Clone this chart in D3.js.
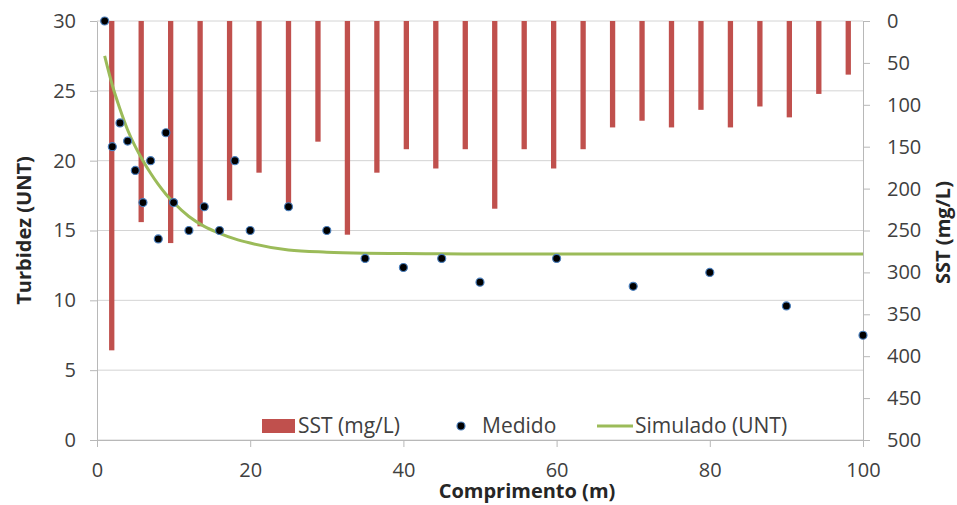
<!DOCTYPE html>
<html>
<head>
<meta charset="utf-8">
<script src="https://cdn.jsdelivr.net/npm/d3@7"></script>
<style>
  body { margin: 0; background: #fff; }
  text { font-family: "Open Sans", sans-serif; fill: #404040; }
  .axis text { font-size: 20px; }
  .title { font-size: 20px; font-weight: bold; fill: #262626; }
  .legend text { font-size: 21px; }
</style>
</head>
<body>
<div id="chart"></div>
<script>
// distance along the channel (m)
const distances = [1, 2, 3, 4, 5, 6, 7, 8, 9, 10, 12, 14, 16, 18, 20, 25, 30, 35, 40, 45, 50, 60, 70, 80, 90, 100];
// measured turbidity (UNT)
const medido = [30, 21, 22.7, 21.4, 19.3, 17, 20, 14.4, 22, 17, 15, 16.7, 15, 20, 15, 16.7, 15, 13, 12.35, 13, 11.3, 13, 11, 12, 9.6, 7.5];
// simulated turbidity (UNT)
const simulado = [27.5, 25.4, 23.7, 22.2, 21.0, 20.0, 19.1, 18.3, 17.6, 17.0, 16.0, 15.3, 14.8, 14.4, 14.1, 13.6, 13.45, 13.38, 13.35, 13.33, 13.32, 13.32, 13.32, 13.32, 13.32, 13.32];
// SST (mg/L), one bar per sample
const sst = [393, 240, 265, 245, 214, 181, 223, 144, 255, 181, 153, 176, 153, 224, 153, 176, 153, 127, 119, 127, 106, 127, 102, 115, 87, 64];

const xTicks = [0, 20, 40, 60, 80, 100];
const turbTicks = [0, 5, 10, 15, 20, 25, 30];
const sstTicks = [0, 50, 100, 150, 200, 250, 300, 350, 400, 450, 500];

const W = 957, H = 505;
const margin = { top: 21, right: 94, bottom: 65, left: 97 };
const width = W - margin.left - margin.right;
const height = H - margin.top - margin.bottom;

const svg = d3.select('#chart').append('svg')
  .attr('width', W)
  .attr('height', H);

const g = svg.append('g')
  .attr('transform', `translate(${margin.left},${margin.top})`);

const x = d3.scaleLinear().domain([0, 100]).range([0, width]);
const y = d3.scaleLinear().domain([0, 30]).range([height, 0]);
const y2 = d3.scaleLinear().domain([0, 500]).range([0, height]);
const xBand = d3.scaleBand()
  .domain(distances)
  .range([0, width])
  .paddingInner(0.82)
  .paddingOuter(0.41);

// gridlines
g.append('g')
  .selectAll('line')
  .data(turbTicks)
  .join('line')
  .attr('x1', 0)
  .attr('x2', width)
  .attr('y1', d => y(d))
  .attr('y2', d => y(d))
  .attr('stroke', '#d4d4d4')
  .attr('stroke-width', 1);

// axes
const axisColor = '#b8b8b8';

const gx = g.append('g')
  .attr('class', 'axis')
  .attr('transform', `translate(0,${height})`)
  .call(d3.axisBottom(x).tickValues(xTicks).tickSize(7).tickSizeOuter(0).tickPadding(16));

const gy = g.append('g')
  .attr('class', 'axis')
  .call(d3.axisLeft(y).tickValues(turbTicks).tickSize(7).tickSizeOuter(0).tickPadding(14));

const gy2 = g.append('g')
  .attr('class', 'axis')
  .attr('transform', `translate(${width},0)`)
  .call(d3.axisRight(y2).tickValues(sstTicks).tickSize(7).tickSizeOuter(0).tickPadding(17));

[gx, gy, gy2].forEach(a => {
  a.select('.domain').attr('stroke', axisColor);
  a.selectAll('.tick line').attr('stroke', axisColor);
  a.selectAll('.tick text').attr('fill', '#404040');
});

// SST bars hanging from the top (reversed secondary axis)
g.append('g')
  .selectAll('rect')
  .data(sst)
  .join('rect')
  .attr('x', (d, i) => xBand(distances[i]))
  .attr('y', y2(0))
  .attr('width', xBand.bandwidth())
  .attr('height', d => y2(d) - y2(0))
  .attr('fill', '#c0504d');

// simulated line
const line = d3.line()
  .x((d, i) => x(distances[i]))
  .y(d => y(d))
  .curve(d3.curveMonotoneX);

g.append('path')
  .datum(simulado)
  .attr('d', line)
  .attr('fill', 'none')
  .attr('stroke', '#9bbb59')
  .attr('stroke-width', 3);

// measured points
g.append('g')
  .selectAll('circle')
  .data(medido)
  .join('circle')
  .attr('cx', (d, i) => x(distances[i]))
  .attr('cy', d => y(d))
  .attr('r', 4)
  .attr('fill', '#000')
  .attr('stroke', '#4a7ebb')
  .attr('stroke-width', 1.2);

// legend
const legend = svg.append('g').attr('class', 'legend');
const ly = 426;

legend.append('rect')
  .attr('x', 262).attr('y', ly - 7)
  .attr('width', 33).attr('height', 14)
  .attr('fill', '#c0504d');
legend.append('text')
  .attr('x', 298).attr('y', ly).attr('dy', '0.35em')
  .text('SST (mg/L)');

legend.append('circle')
  .attr('cx', 461).attr('cy', ly).attr('r', 4)
  .attr('fill', '#000').attr('stroke', '#4a7ebb').attr('stroke-width', 1.2);
legend.append('text')
  .attr('x', 482).attr('y', ly).attr('dy', '0.35em')
  .text('Medido');

legend.append('line')
  .attr('x1', 597).attr('x2', 633)
  .attr('y1', ly).attr('y2', ly)
  .attr('stroke', '#9bbb59').attr('stroke-width', 3);
legend.append('text')
  .attr('x', 635).attr('y', ly).attr('dy', '0.35em')
  .text('Simulado (UNT)');

// axis titles
svg.append('text')
  .attr('class', 'title')
  .attr('text-anchor', 'middle')
  .attr('x', 527).attr('y', 498)
  .text('Comprimento (m)');

svg.append('text')
  .attr('class', 'title')
  .attr('text-anchor', 'middle')
  .attr('transform', `translate(31,${margin.top + height / 2}) rotate(-90)`)
  .text('Turbidez (UNT)');

svg.append('text')
  .attr('class', 'title')
  .attr('text-anchor', 'middle')
  .attr('transform', `translate(950,${margin.top + height / 2 + 2}) rotate(-90)`)
  .text('SST (mg/L)');
</script>
</body>
</html>
